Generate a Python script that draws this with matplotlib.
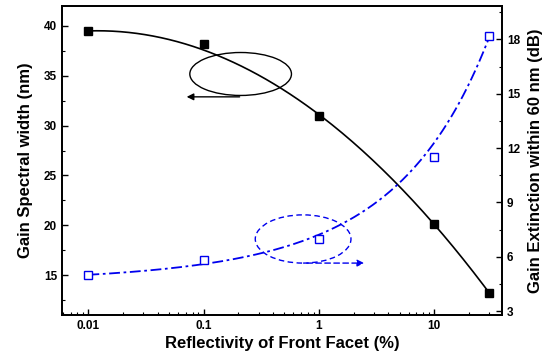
import numpy as np
import matplotlib.pyplot as plt
from matplotlib.patches import Ellipse
from matplotlib.ticker import MultipleLocator, FixedLocator, NullFormatter

plt.rcParams['font.family'] = ['Liberation Sans', 'DejaVu Sans']
plt.rcParams['font.weight'] = 'bold'

# datos
reflectividad = [0.01, 0.1, 1, 10, 30]
ancho_espectral = [39.5, 38.2, 31.0, 20.1, 13.2]
extincion = [5.0, 5.8, 7.0, 11.5, 18.2]

# pesos de los ajustes
pesos_negra = [5, 0.3, 1, 2, 5]
pesos_azul = [5, 1, 1, 1, 5]

fig = plt.figure(figsize=(5.52, 3.63), dpi=100)
ax = fig.add_axes([62/552, 48/363, 440/552, 309/363])
ax2 = ax.twinx()

u = np.log10(reflectividad)
us = np.linspace(u[0], u[-1], 200)
xs = 10**us

# curva negra: ajuste cuadratico en log(x)
p1 = np.polyfit(u, ancho_espectral, 2, w=pesos_negra)
ax.plot(xs, np.polyval(p1, us), color='black', lw=1.2)
ax.plot(reflectividad, ancho_espectral, 's', color='black', ms=6)

# curva azul: ajuste de log(y - y0) en log(x)
y0 = 4.4
p2 = np.polyfit(u, np.log(np.array(extincion) - y0), 2, w=pesos_azul)
ax2.plot(xs, np.exp(np.polyval(p2, us)) + y0, color='#0000ee', lw=1.3,
         dashes=(6, 2, 1.5, 2))
ax2.plot(reflectividad, extincion, 's', mfc='white', mec='#0000ee', mew=1.0, ms=6)

ax.set_xscale('log')
ax.set_xlim(0.0059, 38.6)
ax.set_ylim(11, 42)
ax2.set_ylim(2.78, 19.85)

ax.set_xticks([0.01, 0.1, 1, 10])
ax.set_xticklabels(['0.01', '0.1', '1', '10'])
ax.xaxis.set_minor_formatter(NullFormatter())
ax.yaxis.set_major_locator(MultipleLocator(5))
ax.yaxis.set_minor_locator(MultipleLocator(2.5))
ax2.yaxis.set_major_locator(FixedLocator([3, 6, 9, 12, 15, 18]))
ax2.yaxis.set_minor_locator(MultipleLocator(1.5))

for a in (ax, ax2):
    a.tick_params(which='major', direction='in', length=4, width=1, labelsize=8.5)
    a.tick_params(which='minor', direction='in', length=2.5, width=0.8)
    for s in a.spines.values():
        s.set_linewidth(1.3)
ax.tick_params(top=False, which='both')
ax.tick_params(axis='y', right=False, which='both')

ax.set_xlabel('Reflectivity of Front Facet (%)', fontsize=12, fontweight='bold', labelpad=3)
ax.set_ylabel('Gain Spectral width (nm)', fontsize=12, fontweight='bold', labelpad=8)
ax2.set_ylabel('Gain Extinction within 60 nm (dB)', fontsize=12, fontweight='bold', labelpad=6)

# anotaciones
ax.add_patch(Ellipse((0.406, 0.780), 0.231, 0.139, transform=ax.transAxes,
                     fill=False, ec='black', lw=1.0))
ax.annotate('', xy=(0.277, 0.706), xytext=(0.41, 0.706), xycoords='axes fraction',
            arrowprops=dict(arrowstyle='-|>', color='black', lw=1.0,
                            mutation_scale=10))
ax.add_patch(Ellipse((0.548, 0.246), 0.2175, 0.156, transform=ax.transAxes,
                     fill=False, ec='#0000ee', lw=1.0, ls=(0, (4, 2.5))))
ax.annotate('', xy=(0.693, 0.168), xytext=(0.55, 0.168), xycoords='axes fraction',
            arrowprops=dict(arrowstyle='-|>', color='#0000ee', lw=1.0,
                            ls=(0, (4, 2.5)), mutation_scale=10))

fig.savefig('out.png', dpi=100)
